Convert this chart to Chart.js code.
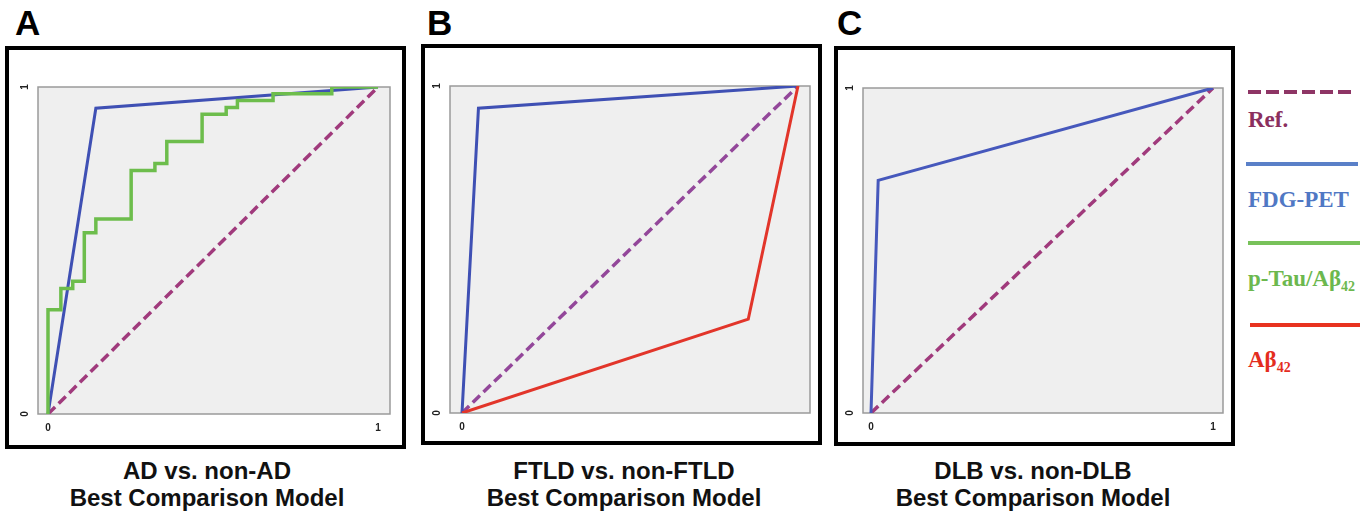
<!DOCTYPE html>
<html>
<head>
<meta charset="utf-8">
<script src="https://cdn.jsdelivr.net/npm/chart.js@4/dist/chart.umd.min.js"></script>
<style>
  html, body { margin: 0; padding: 0; background: #fff; }
  body { width: 1368px; height: 512px; position: relative; overflow: hidden; font-family: "Liberation Sans", Arial, sans-serif; }
  .abs { position: absolute; }
  .frame { position: absolute; border: 4px solid #000; box-sizing: border-box; }
  .letter { position: absolute; font-weight: bold; font-size: 35px; line-height: 35px; color: #000; }
  .title { position: absolute; width: 400px; text-align: center; font-weight: bold; font-size: 24px; line-height: 27px; color: #111; }
  .leg { position: absolute; left: 1248px; font-family: "Liberation Serif", "Times New Roman", serif; font-weight: bold; font-size: 23px; line-height: 23px; white-space: nowrap; }
  .leg sub { font-size: 14px; vertical-align: -5px; line-height: 0; }
  .legline { position: absolute; height: 4px; }
</style>
</head>
<body>

<div class="letter" style="left:15px; top:5px;">A</div>
<div class="letter" style="left:427px; top:5px;">B</div>
<div class="letter" style="left:837px; top:5px;">C</div>

<div class="frame" style="left:5px; top:46px; width:401px; height:403px;"></div>
<div class="frame" style="left:421px; top:44px; width:401px; height:401px;"></div>
<div class="frame" style="left:834px; top:46px; width:401px; height:400px;"></div>

<canvas id="chartA" class="abs"></canvas>
<canvas id="chartB" class="abs"></canvas>
<canvas id="chartC" class="abs"></canvas>

<div class="title" style="left:7px; top:457px;">AD vs. non-AD<br>Best Comparison Model</div>
<div class="title" style="left:424px; top:457px;">FTLD vs. non-FTLD<br>Best Comparison Model</div>
<div class="title" style="left:833px; top:457px;">DLB vs. non-DLB<br>Best Comparison Model</div>

<div class="legline" style="left:1248px; top:90px; width:105px; background: repeating-linear-gradient(90deg, #8e3565 0 13px, transparent 13px 18px);"></div>
<div class="leg" style="top:108px; color:#8b2f5e;">Ref.</div>
<div class="legline" style="left:1246px; top:162px; width:112px; background:#5a80c8;"></div>
<div class="leg" style="top:188px; color:#5078c4;">FDG-PET</div>
<div class="legline" style="left:1248px; top:241px; width:112px; background:#78c25a;"></div>
<div class="leg" style="top:267px; color:#6cb84e;">p-Tau/Aβ<sub>42</sub></div>
<div class="legline" style="left:1250px; top:323px; width:110px; background:#e8321f;"></div>
<div class="leg" style="top:348px; color:#e42d1e;">Aβ<sub>42</sub></div>

<script>
// ROC data: false positive rate (x) and true positive rate (y)
const fprRef = [0, 1];
const tprRef = [0, 1];

// A: AD vs. non-AD
const fprAdFdg = [0, 0.145, 1];
const tprAdFdg = [0, 0.935, 1];
const fprAdTau = [0, 0.039, 0.075, 0.11, 0.145, 0.252, 0.324, 0.36, 0.467, 0.54, 0.574, 0.682, 0.86, 1];
const tprAdTau = [0, 0.319, 0.384, 0.406, 0.554, 0.596, 0.745, 0.766, 0.833, 0.917, 0.937, 0.959, 0.979, 1];

// B: FTLD vs. non-FTLD
const fprFtldFdg = [0, 0.049, 1];
const tprFtldFdg = [0, 0.932, 1];
const fprFtldAb = [0, 0.852, 1];
const tprFtldAb = [0, 0.287, 1];

// C: DLB vs. non-DLB
const fprDlbFdg = [0, 0.021, 1];
const tprDlbFdg = [0, 0.716, 1];

// tick labels per panel
const xTicksA = [0, 1];
const xTicksB = [0];
const xTicksC = [0, 1];
const yTicks = [0, 1];

const REF_COLOR = "#a03a7c";
const FDG_COLOR = "#3f50b4";
const TAU_COLOR = "#6dbd4c";
const AB_COLOR = "#e2352a";

function toPoints(xs, ys) {
  return xs.map((x, i) => ({ x: x, y: ys[i] }));
}

function line(label, xs, ys, color, width, extra) {
  return Object.assign({
    label: label,
    data: toPoints(xs, ys),
    borderColor: color,
    borderWidth: width,
    pointRadius: 0,
    showLine: true,
    fill: false,
    tension: 0
  }, extra || {});
}

// gray plot background + thin gray border
const plotBox = {
  id: "plotBox",
  beforeDatasetsDraw(chart) {
    const a = chart.chartArea;
    const c = chart.ctx;
    c.save();
    c.fillStyle = "#efefef";
    c.fillRect(a.left, a.top, a.right - a.left, a.bottom - a.top);
    c.strokeStyle = "#9a9a9a";
    c.lineWidth = 1.5;
    c.strokeRect(a.left, a.top, a.right - a.left, a.bottom - a.top);
    c.restore();
  }
};

const AXIS_W = 26, AXIS_H = 26, PAD = 6;

function makePanel(id, area, xMin, xMax, xTicks, datasets) {
  const cv = document.getElementById(id);
  const left = area.left - AXIS_W, top = area.top - PAD;
  const w = area.right - area.left + AXIS_W + PAD;
  const h = area.bottom - area.top + AXIS_H + PAD;
  cv.style.left = left + "px";
  cv.style.top = top + "px";
  cv.width = w; cv.height = h;
  cv.style.width = w + "px"; cv.style.height = h + "px";

  const tickFont = { family: "'Liberation Sans', Arial, sans-serif", size: 10, weight: "bold" };

  return new Chart(cv, {
    type: "scatter",
    data: { datasets: datasets },
    options: {
      responsive: false,
      animation: false,
      layout: { padding: { left: 0, top: PAD, right: PAD, bottom: 0 } },
      plugins: { legend: { display: false }, tooltip: { enabled: false } },
      scales: {
        x: {
          type: "linear", min: xMin, max: xMax,
          grid: { display: false, drawTicks: false },
          border: { display: false },
          ticks: { font: tickFont, color: "#222", padding: 8, maxRotation: 0, callback: v => String(v) },
          afterBuildTicks: s => { s.ticks = xTicks.map(v => ({ value: v })); },
          afterFit: s => { s.height = AXIS_H; }
        },
        y: {
          type: "linear", min: 0, max: 1,
          grid: { display: false, drawTicks: false },
          border: { display: false },
          ticks: { font: tickFont, color: "#222", padding: 10, minRotation: 90, maxRotation: 90, crossAlign: "center", callback: v => String(v) },
          afterBuildTicks: s => { s.ticks = yTicks.map(v => ({ value: v })); },
          afterFit: s => { s.width = AXIS_W; }
        }
      }
    },
    plugins: [plotBox]
  });
}

const dash = { borderDash: [10, 5] };

makePanel("chartA", { left: 38, top: 77, right: 390, bottom: 414 }, -0.0303, 1.0364, xTicksA, [
  line("p-Tau/Aβ42", fprAdTau, tprAdTau, TAU_COLOR, 3.5, { stepped: "after" }),
  line("FDG-PET", fprAdFdg, tprAdFdg, FDG_COLOR, 3),
  line("Ref.", fprRef, tprRef, REF_COLOR, 3.5, dash)
]);

makePanel("chartB", { left: 450, top: 76, right: 810, bottom: 413 }, -0.0357, 1.0357, xTicksB, [
  line("Aβ42", fprFtldAb, tprFtldAb, AB_COLOR, 3),
  line("FDG-PET", fprFtldFdg, tprFtldFdg, FDG_COLOR, 3),
  line("Ref.", fprRef, tprRef, "#93479a", 3.5, dash)
]);

makePanel("chartC", { left: 863, top: 78, right: 1223, bottom: 413 }, -0.0234, 1.0292, xTicksC, [
  line("FDG-PET", fprDlbFdg, tprDlbFdg, "#4658bc", 3),
  line("Ref.", fprRef, tprRef, REF_COLOR, 3.5, dash)
]);
</script>
</body>
</html>
